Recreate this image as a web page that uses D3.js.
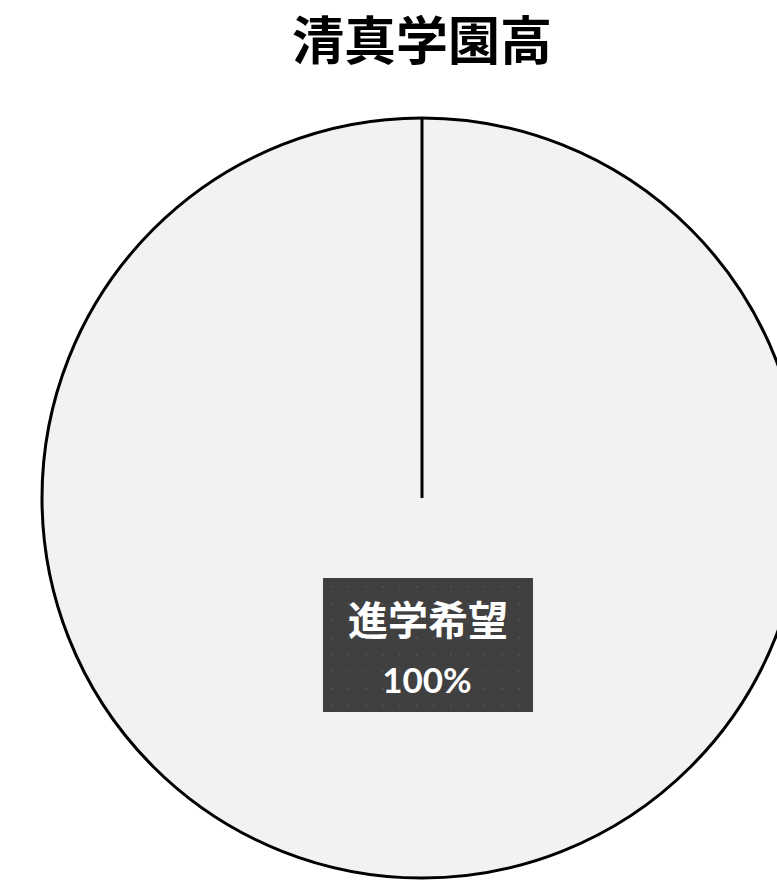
<!DOCTYPE html>
<html><head><meta charset="utf-8">
<script src="https://cdn.jsdelivr.net/npm/d3@7"></script>
<style>html,body{margin:0;padding:0;background:#fff;overflow:hidden}</style>
</head><body>
<svg id="chart" width="777" height="883"></svg>
<script>
const title = "清真学園高";
const categories = ["進学希望"];
const values = [100];
const percentLabels = ["100%"];

const svg = d3.select("#chart");
const cx = 422, cy = 498, r = 380;
const font = "'Noto Sans CJK JP','Noto Sans',sans-serif";

const defs = svg.append("defs");
const pat = defs.append("pattern").attr("id","dots").attr("patternUnits","userSpaceOnUse")
  .attr("width",17).attr("height",17);
pat.append("rect").attr("width",17).attr("height",17).attr("fill","#404040");
pat.append("rect").attr("x",8).attr("y",8).attr("width",1.5).attr("height",1.5).attr("fill","#585858");

svg.append("text").attr("x",cx).attr("y",60).attr("text-anchor","middle")
  .attr("font-family",font).attr("font-weight","bold").attr("font-size",52).attr("fill","#000")
  .text(title);

const pie = d3.pie().sort(null).value(d=>d);
const arcs = pie(values);
const arc = d3.arc().innerRadius(0).outerRadius(r);
const g = svg.append("g").attr("transform",`translate(${cx},${cy})`);
g.selectAll("path.slice").data(arcs).enter().append("path").attr("class","slice")
  .attr("d",arc).attr("fill","#f2f2f2").attr("stroke","#000").attr("stroke-width",3);
g.selectAll("line.edge").data(arcs).enter().append("line").attr("class","edge")
  .attr("x1",0).attr("y1",0)
  .attr("x2",d=>r*Math.sin(d.startAngle)).attr("y2",d=>-r*Math.cos(d.startAngle))
  .attr("stroke","#000").attr("stroke-width",3);

const lg = svg.append("g");
arcs.forEach((d,i)=>{
  const bx = 323, by = 578, bw = 210, bh = 134;
  lg.append("rect").attr("x",bx).attr("y",by).attr("width",bw).attr("height",bh).attr("fill","url(#dots)");
  lg.append("text").attr("x",bx+bw/2).attr("y",635).attr("text-anchor","middle")
    .attr("font-family",font).attr("font-weight","bold").attr("font-size",40).attr("fill","#fff")
    .text(categories[i]);
  lg.append("text").attr("x",bx+bw/2-1).attr("y",693).attr("text-anchor","middle")
    .attr("font-family","Lato,'Open Sans',sans-serif").attr("font-weight","bold").attr("font-size",35).attr("fill","#fff")
    .text(percentLabels[i]);
});
</script>
</body></html>
